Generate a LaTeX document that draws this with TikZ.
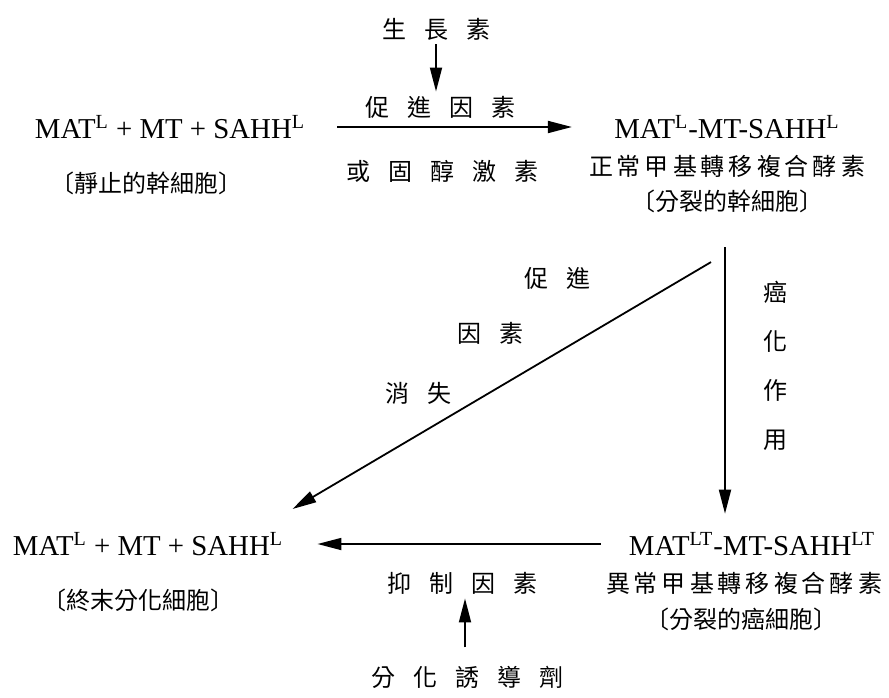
\documentclass[tikz,border=0pt]{standalone}
\usepackage{fontspec}
\setmainfont{Liberation Serif}
\newfontfamily\cjk{Noto Sans CJK TC}
\usepackage{tikz}
\usetikzlibrary{arrows.meta, positioning}
\newcommand{\gp}{\hspace{9pt}}
\tikzset{
  formula/.style={font=\fontsize{14.4}{17}\selectfont, inner sep=2pt},
  cjkline/.style={font=\cjk\fontsize{12}{14}\selectfont, inner sep=2pt},
  arrow/.style={line width=0.9pt, -{Triangle[length=12pt, width=6pt]}}
}

\begin{document}
\begin{tikzpicture}[x=0.5pt, y=-0.5pt]
\useasboundingbox (0,0) rectangle (889,697);

% top row
\node[formula] (matA) at (170,127) {MAT\textsuperscript{L} + MT + SAHH\textsuperscript{L}};
\node[cjkline, below=12pt of matA, xshift=-12pt] (restA) {〔靜止的幹細胞〕};
\node[formula] (matB) at (727,127) {MAT\textsuperscript{L}-MT-SAHH\textsuperscript{L}};
\node[cjkline, below=4pt of matB] (normB) {正\,常\,甲\,基\,轉\,移\,複\,合\,酵\,素};
\node[cjkline, below=1.5pt of normB] (cellB) {〔分裂的幹細胞〕};

\node[cjkline] (auxin) at (436,29) {生\gp 長\gp 素};
\node[cjkline] (prom) at (440,107) {促\gp 進\gp 因\gp 素};
\node[cjkline] (steroid) at (442,171) {或\gp 固\gp 醇\gp 激\gp 素};

% bottom row
\node[formula] (matD) at (148,544) {MAT\textsuperscript{L} + MT + SAHH\textsuperscript{L}};
\node[cjkline, below=12pt of matD, xshift=-5pt] (termD) {〔終末分化細胞〕};
\node[formula] (matE) at (752,544) {MAT\textsuperscript{LT}-MT-SAHH\textsuperscript{LT}};
\node[cjkline, below=4pt of matE, xshift=-4pt] (abnE) {異\,常\,甲\,基\,轉\,移\,複\,合\,酵\,素};
\node[cjkline, below=2pt of abnE, xshift=-1.5pt] (cellE) {〔分裂的癌細胞〕};

\node[cjkline] (inhib) at (462,583) {抑\gp 制\gp 因\gp 素};
\node[cjkline] (induce) at (467,677) {分\gp 化\gp 誘\gp 導\gp 劑};

% side labels
\node[cjkline] (promA) at (557,278) {促\gp 進};
\node[cjkline] (promB) at (490,333) {因\gp 素};
\node[cjkline] (vanish) at (418,393) {消\gp 失};
\node[cjkline, align=center, font=\cjk\fontsize{12}{24.5}\selectfont] (cancer) at (775,366) {癌\\化\\作\\用};

% arrows
\draw[arrow] (auxin.south) -- (auxin.south |- prom.north);
\draw[arrow, shorten <=14pt, shorten >=19pt] (matA.east) -- (matA.east -| matB.west);
\draw[arrow] ([shift={(-16,45)}]cellB.south) -- ([shift={(5,-35)}]matD.east);
\draw[arrow, shorten <=15pt, shorten >=7pt] ([xshift=-1pt]cellB.south) -- ([xshift=-1pt]cellB.south |- matE.north);
\draw[arrow, shorten <=12pt, shorten >=15pt] (matE.west) -- (matE.west -| matD.east);
\draw[arrow, shorten <=7pt] ([xshift=-1pt]induce.north) -- ([xshift=-1pt]induce.north |- inhib.south);
\end{tikzpicture}
\end{document}
